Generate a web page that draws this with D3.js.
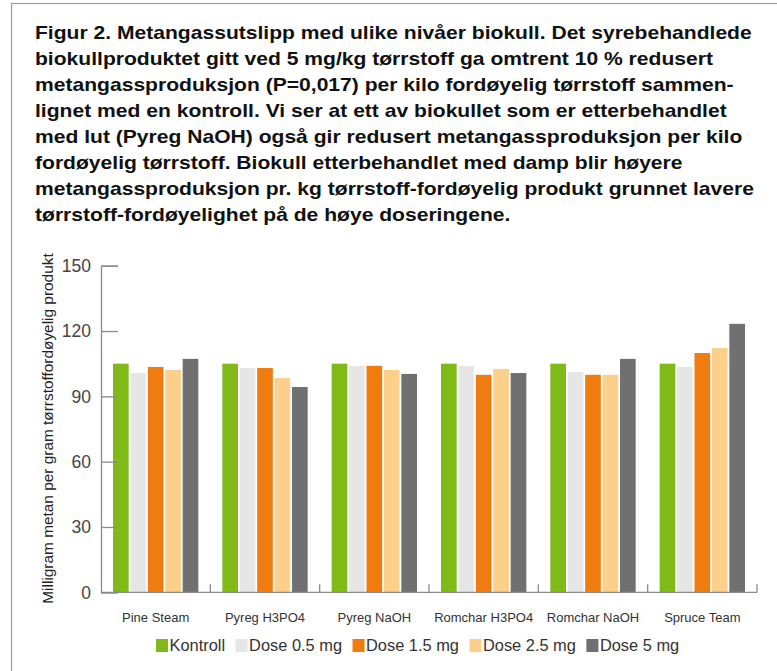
<!DOCTYPE html>
<html><head><meta charset="utf-8">
<script src="https://cdn.jsdelivr.net/npm/d3@7"></script>
<style>
body{margin:0;background:#fff;}
svg{display:block;}
</style></head>
<body>
<script>
const categories = ["Pine Steam","Pyreg H3PO4","Pyreg NaOH","Romchar H3PO4","Romchar NaOH","Spruce Team"];
const seriesNames = ["Kontroll","Dose 0.5 mg","Dose 1.5 mg","Dose 2.5 mg","Dose 5 mg"];
const kontroll = [105, 105, 105, 105, 105, 105];
const dose05   = [100.7, 103, 104, 104, 101.2, 103.5];
const dose15   = [103.5, 103, 104, 99.9, 99.9, 109.9];
const dose25   = [102.1, 98.4, 102.1, 102.6, 99.9, 112.2];
const dose5    = [107.2, 94.3, 100.3, 100.7, 107.2, 123.3];
const yTicks = [0, 30, 60, 90, 120, 150];
const colors = ["#7fba17","#e6e6e6","#f07c0f","#fcd08a","#6f706f"];
const titleLines = [
 "Figur 2. Metangassutslipp med ulike nivåer biokull. Det syrebehandlede",
 "biokullproduktet gitt ved 5 mg/kg tørrstoff ga omtrent 10 % redusert",
 "metangassproduksjon (P=0,017) per kilo fordøyelig tørrstoff sammen-",
 "lignet med en kontroll. Vi ser at ett av biokullet som er etterbehandlet",
 "med lut (Pyreg NaOH) også gir redusert metangassproduksjon per kilo",
 "fordøyelig tørrstoff. Biokull etterbehandlet med damp blir høyere",
 "metangassproduksjon pr. kg tørrstoff-fordøyelig produkt grunnet lavere",
 "tørrstoff-fordøyelighet på de høye doseringene."
];
const yLabel = "Milligram metan per gram tørrstoffordøyelig produkt";

const allSeries = [kontroll, dose05, dose15, dose25, dose5];
const W = 777, H = 671;
const svg = d3.select("body").append("svg").attr("width", W).attr("height", H);
const font = "'Liberation Sans', Helvetica, Arial, sans-serif";

// frame
svg.append("rect").attr("x", 11.5).attr("y", 3.5).attr("width", W + 20).attr("height", H + 20)
  .attr("fill", "none").attr("stroke", "#9a9a9a").attr("stroke-width", 1.2);

// title
const tg = svg.append("g").attr("font-family", font).attr("font-weight", "bold").attr("font-size", 18).attr("fill", "#111");
const tNodes = titleLines.map((t, i) => tg.append("text").attr("x", 0).attr("y", 39.5 + i * 26).text(t));
const w1 = tNodes[0].node().getComputedTextLength();
tg.attr("transform", `translate(35,0) scale(${717 / w1},1)`);

const x0 = d3.scaleBand().domain(categories).range([101, 757]).paddingInner(0).paddingOuter(0);
const bw = x0.bandwidth();
const x1 = d3.scaleBand().domain(seriesNames).range([12, bw - 12]).paddingInner(0.1);
const y = d3.scaleLinear().domain([0, 150]).range([592.3, 265.7]);

// bars
const groups = svg.append("g").selectAll("g").data(categories).join("g")
  .attr("transform", d => `translate(${x0(d)},0)`);
groups.selectAll("rect").data((c, ci) => seriesNames.map((s, si) => ({s, si, v: allSeries[si][ci]})))
  .join("rect")
  .attr("x", d => x1(d.s)).attr("width", x1.bandwidth())
  .attr("y", d => y(d.v)).attr("height", d => y(0) - y(d.v))
  .attr("fill", d => colors[d.si]);

// y axis
const yAxis = d3.axisRight(y).tickValues(yTicks).tickSize(17).tickFormat("");
const yg = svg.append("g").attr("transform", "translate(101,0)").call(yAxis);
yg.select(".domain").attr("stroke", "#8a8a8a").attr("stroke-width", 1.3);
yg.selectAll(".tick line").attr("stroke", "#8a8a8a").attr("stroke-width", 1.3);
svg.append("g").selectAll("text").data(yTicks).join("text")
  .attr("x", 91).attr("y", d => y(d)).attr("dy", "0.36em").attr("text-anchor", "end")
  .attr("font-family", font).attr("font-size", 17.5).attr("fill", "#444").text(d => d);

// x axis baseline with boundary ticks
const xg = svg.append("g");
xg.append("line").attr("x1", 101).attr("x2", 757).attr("y1", y(0)).attr("y2", y(0))
  .attr("stroke", "#8a8a8a").attr("stroke-width", 1.3);
xg.selectAll(".bt").data(categories).join("line").attr("class", "bt")
  .attr("x1", d => x0(d) + bw).attr("x2", d => x0(d) + bw)
  .attr("y1", y(0)).attr("y2", y(0) - 8).attr("stroke", "#8a8a8a").attr("stroke-width", 1.3);
xg.selectAll(".xl").data(categories).join("text").attr("class", "xl")
  .attr("x", d => x0(d) + bw / 2).attr("y", 617).attr("dy", "0.36em").attr("text-anchor", "middle")
  .attr("font-family", font).attr("font-size", 13).attr("fill", "#333").text(d => d);

// y label
svg.append("text").attr("transform", "translate(47,428.5) rotate(-90)")
  .attr("dy", "0.36em").attr("text-anchor", "middle")
  .attr("font-family", font).attr("font-size", 15.4).attr("fill", "#222").text(yLabel);

// legend
const lg = svg.append("g").attr("font-family", font).attr("font-size", 16.4).attr("fill", "#333");
let lx = 156;
seriesNames.forEach((s, i) => {
  lg.append("rect").attr("x", lx).attr("y", 639).attr("width", 12).attr("height", 13).attr("fill", colors[i]);
  const t = lg.append("text").attr("x", lx + 13.5).attr("y", 645.5).attr("dy", "0.36em").text(s);
  lx += 13.5 + t.node().getComputedTextLength() + 10.5;
});
</script>
</body></html>
